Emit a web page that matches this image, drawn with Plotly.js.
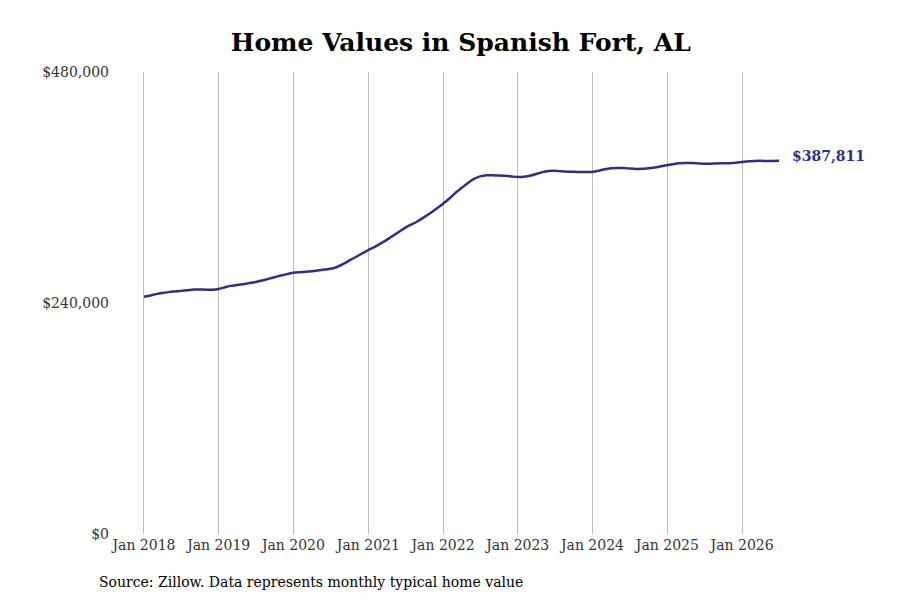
<!DOCTYPE html>
<html>
<head>
<meta charset="utf-8">
<script src="https://cdn.plot.ly/plotly-3.0.1.min.js"></script>
<style>
    html, body { margin: 0; padding: 0; background: #fff; }
    #chart { width: 900px; height: 600px; }
</style>
</head>
<body>
<div id="chart"></div>
<script>
// Monthly typical home value, Jan 2018 .. Jul 2026
const startYear = 2018;
const values = [
    // 2018
    246500, 247800, 249200, 250400, 251300, 252000, 252600, 253300, 254000, 254100, 253800, 253700,
    // 2019
    254500, 256400, 257800, 258700, 259600, 260700, 261900, 263400, 265100, 266800, 268500, 270000,
    // 2020
    271500, 272000, 272400, 273000, 273800, 274700, 275600, 277400, 280600, 284200, 287800, 291400,
    // 2021
    295000, 298200, 301700, 305600, 309700, 314100, 318300, 321700, 325200, 329200, 333600, 338200,
    // 2022
    343200, 348600, 354100, 359500, 364500, 368900, 371600, 372800, 372600, 372400, 372100, 371500,
    // 2023
    370800, 371200, 372200, 374000, 376000, 377200, 377400, 376800, 376400, 376300, 376100, 376000,
    // 2024
    376200, 377500, 379000, 380000, 380300, 380200, 379700, 379300, 379400, 380000, 380800, 382000,
    // 2025
    383300, 384500, 385200, 385500, 385400, 385000, 384600, 384700, 385000, 385200, 385300, 385700,
    // 2026
    386500, 387300, 387600, 387700, 387500, 387600, 387811,
];
const yTickVals = [0, 240000, 480000];
const yTickText = ["$0", "$240,000", "$480,000"];

const months = values.map((v, i) => {
    const y = startYear + Math.floor(i / 12);
    const m = String(i % 12 + 1).padStart(2, "0");
    return `${y}-${m}-01`;
});

const lineColor = "#2f2e8b";
const serif = "DejaVu Serif, serif";
const last = values.length - 1;

Plotly.newPlot("chart", [{
    type: "scatter",
    mode: "lines",
    x: months,
    y: values,
    line: { color: lineColor, width: 2.5, shape: "spline", smoothing: 0.6 },
    hoverinfo: "skip",
}], {
    width: 900,
    height: 600,
    paper_bgcolor: "#fff",
    plot_bgcolor: "#fff",
    font: { family: serif, size: 14, color: "#333" },
    title: {
        text: "<b>Home Values in Spanish Fort, AL</b>",
        font: { family: serif, size: 25, color: "#000" },
        x: 0.512, xanchor: "center",
        y: 0.93, yanchor: "middle",
    },
    margin: { l: 110, r: 110, t: 72, b: 66, pad: 0 },
    showlegend: false,
    xaxis: {
        type: "date",
        range: ["2017-07-19", "2026-08-23"],
        tick0: "2018-01-01",
        dtick: "M12",
        tickformat: "%b %Y",
        showgrid: true,
        gridcolor: "#bdbdbd",
        gridwidth: 1,
        zeroline: false,
        showline: false,
        ticks: "",
        ticklabelstandoff: 1,
        tickfont: { family: serif, size: 14, color: "#333" },
        fixedrange: true,
    },
    yaxis: {
        range: [0, 480000],
        tickvals: yTickVals,
        ticktext: yTickText,
        showgrid: false,
        zeroline: false,
        showline: false,
        ticks: "",
        tickfont: { family: serif, size: 14, color: "#333" },
        fixedrange: true,
    },
    annotations: [{
        x: months[last], y: values[last],
        xref: "x", yref: "y",
        text: "<b>$" + values[last].toLocaleString("en-US") + "</b>",
        showarrow: false,
        xanchor: "left", yanchor: "middle",
        xshift: 11, yshift: 5,
        font: { family: serif, size: 14, color: lineColor },
    }, {
        x: -0.019, y: -0.104,
        xref: "paper", yref: "paper",
        text: "Source: Zillow. Data represents monthly typical home value",
        showarrow: false,
        xanchor: "left", yanchor: "middle",
        font: { family: serif, size: 14, color: "#000" },
    }],
}, { displayModeBar: false, staticPlot: true });
</script>
</body>
</html>
